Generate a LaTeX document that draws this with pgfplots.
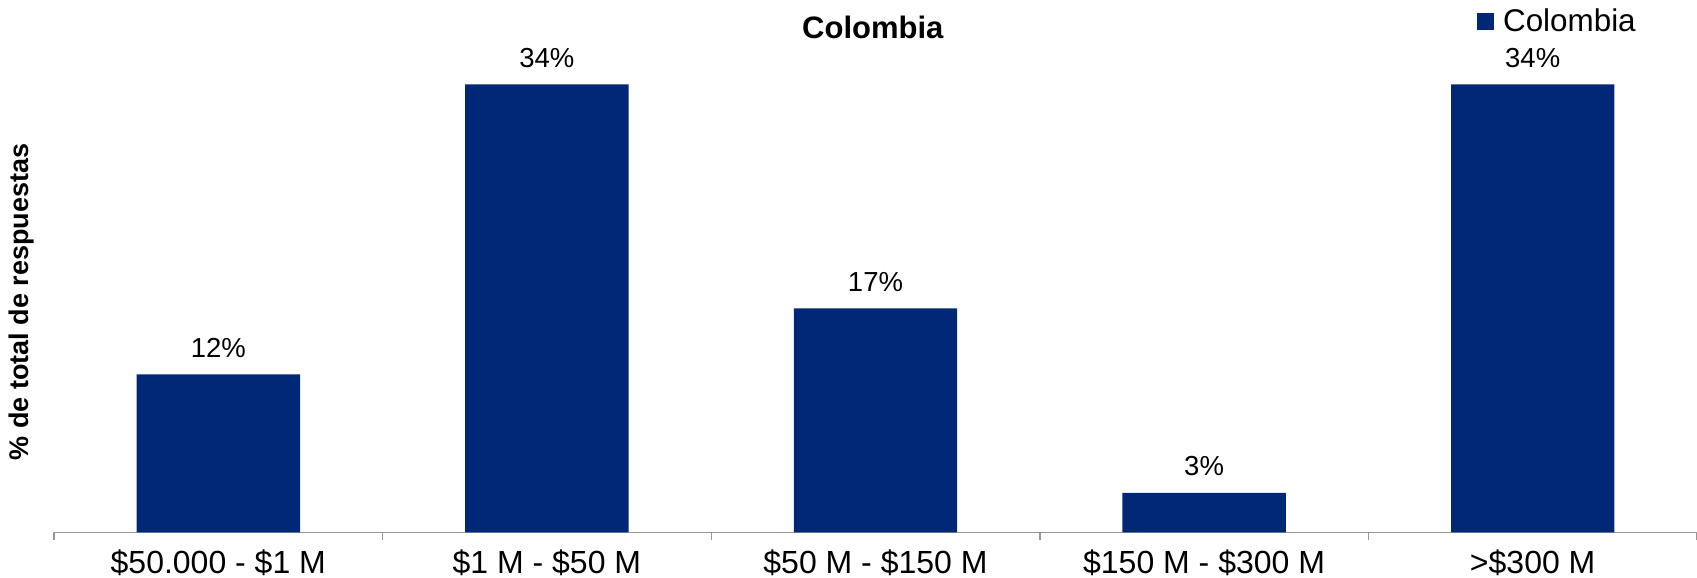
\documentclass[border=0pt]{standalone}
\usepackage{pgfplots}
\pgfplotsset{compat=1.18}
\usepackage{fontspec}
\setmainfont{Liberation Sans}
\definecolor{navy}{RGB}{0,40,118}
\definecolor{axgray}{RGB}{150,150,150}
\begin{document}
\begin{tikzpicture}
\path[use as bounding box] (0,0) rectangle (848.5pt,289pt);
\begin{axis}[
  at={(27pt,22.75pt)}, anchor=south west,
  scale only axis, width=821.5pt, height=263.6pt,
  xmin=-0.5, xmax=4.5, ymin=0, ymax=40,
  enlargelimits=false,
  axis x line*=bottom, axis y line=none,
  x axis line style={axgray, line width=0.7pt, -},
  xtick={0,1,2,3,4}, major tick length=0pt,
  minor xtick={-0.5,0.5,1.5,2.5,3.5,4.5}, minor tick length=3.9pt,
  tick align=outside, minor tick style={axgray, line width=0.7pt},
  xticklabels={\$50.000 - \$1 M, \$1 M - \$50 M, \$50 M - \$150 M, \$150 M - \$300 M, >\$300 M},
  xticklabel style={font=\fontsize{16}{19}\selectfont, anchor=base, yshift=-20.5pt},
  /pgf/number format/assume math mode=true,
  ybar, bar width=81.7pt,
  nodes near coords={\pgfmathprintnumber{\pgfplotspointmeta}\%},
  nodes near coords style={font=\fontsize{13.75}{16}\selectfont, anchor=base, yshift=8.5pt, text=black},
  legend image code/.code={\fill[navy] (0pt,-4.35pt) rectangle (8.7pt,4.35pt); \path (0pt,7.05pt);},
  legend style={draw=none, fill=none, at={(0.8659,0.9443)}, anchor=south west, inner sep=0pt, outer sep=0pt, font=\fontsize{15.7}{18}\selectfont, nodes={inner sep=0pt}, column sep=4.5pt},
  clip=false,
]
\addplot[fill=navy, draw=none] coordinates {(0,12) (1,34) (2,17) (3,3) (4,34)};
\addlegendentry{Colombia}
\end{axis}
\node[font=\bfseries\fontsize{15.5}{18}\selectfont, anchor=base] at (436.4pt,269.5pt) {Colombia};
\node[rotate=90, font=\bfseries\fontsize{13.5}{16}\selectfont, anchor=center] at (10.8pt,138pt) {\% de total de respuestas};
\end{tikzpicture}
\end{document}
